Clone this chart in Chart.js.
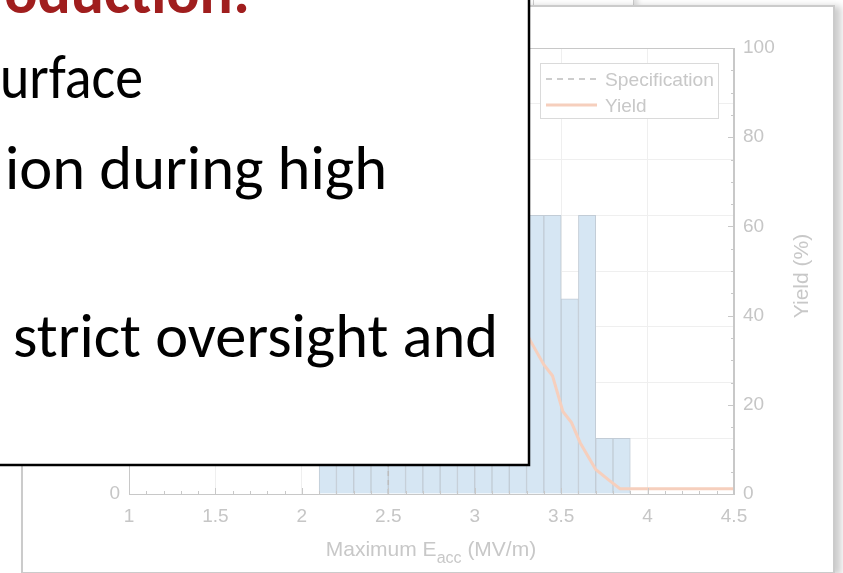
<!DOCTYPE html>
<html>
<head>
<meta charset="utf-8">
<script src="https://cdn.jsdelivr.net/npm/chart.js@4.4.1/dist/chart.umd.min.js"></script>
<style>
  html, body { margin: 0; padding: 0; background: #fff; }
  #wrap { position: relative; width: 843px; height: 573px; overflow: hidden; }
  #frame { position: absolute; left: 21px; top: 5px; width: 810px; height: 565px;
           border: 2px solid #cbcbcb; background: #fff; box-shadow: 6px 1px 7px rgba(0,0,0,0.2); }
  #tab { position: absolute; left: 533px; top: -12px; width: 99px; height: 16px;
         border: 1px solid #cdcdcd; background: #fff; box-shadow: 4px 1px 5px rgba(0,0,0,0.12); }
  canvas { position: absolute; left: 0; top: 0; }
  svg { position: absolute; left: 0; top: 0; }
</style>
</head>
<body>
<div id="wrap">
  <div id="tab"></div>
  <div id="frame"></div>
  <canvas id="myChart" width="843" height="573"></canvas>
  <svg width="843" height="573" font-family="Liberation Sans, Arial, sans-serif">
    <!-- legend -->
    <rect x="540.5" y="63.5" width="178" height="55" fill="#fff" stroke="#dadada" stroke-width="1"/>
    <line x1="546" y1="79" x2="597" y2="79" stroke="#bdbdbd" stroke-width="1.5" stroke-dasharray="6 5"/>
    <text x="605" y="86" font-size="19" fill="#c8c8c8" textLength="109" lengthAdjust="spacingAndGlyphs">Specification</text>
    <line x1="546" y1="105" x2="597" y2="105" stroke="#f6cfbd" stroke-width="3"/>
    <text x="605" y="112" font-size="19" fill="#c8c8c8">Yield</text>
    <!-- axis titles -->
    <text x="431" y="556" font-size="21" fill="#c8c8c8" text-anchor="middle">Maximum E<tspan font-size="16" dy="7">acc</tspan><tspan dy="-7"> (MV/m)</tspan></text>
    <text transform="translate(808,276) rotate(-90)" font-size="21" fill="#c8c8c8" text-anchor="middle">Yield (%)</text>
    <!-- slide text box on top of the chart -->
    <rect x="-10" y="-10" width="539" height="475" fill="#fff" stroke="#000" stroke-width="2.5"/>
    <g font-family="Carlito, Calibri, Lato, sans-serif" font-size="62">
      <text x="250" y="13" text-anchor="end" font-weight="bold" fill="#a01e1e">Introduction:</text>
      <text x="0" y="98" fill="#000" textLength="143" lengthAdjust="spacingAndGlyphs">urface</text>
      <text x="5" y="189" fill="#000" textLength="382" lengthAdjust="spacingAndGlyphs">ion during high</text>
      <text x="13" y="357" fill="#000" textLength="485" lengthAdjust="spacingAndGlyphs">strict oversight and</text>
    </g>
  </svg>
</div>
<script>
// histogram bins (centres, MV/m) and counts
const binCenters = [2.15, 2.25, 2.35, 2.45, 2.55, 2.65, 2.75, 2.85, 2.95, 3.05, 3.15, 3.25,
                    3.35, 3.45, 3.55, 3.65, 3.75, 3.85];
const binCounts = [2, 3, 4, 5, 6, 6, 7, 8, 8, 9, 10, 10,
                   10, 10, 7, 10, 2, 2];

// yield curve (%)
const yieldX = [1.0, 2.1, 2.5, 2.9, 3.1, 3.2, 3.32, 3.40, 3.45, 3.51, 3.56, 3.61, 3.70, 3.78, 3.84, 4.5];
const yieldY = [100, 100, 92, 70, 52, 44, 34.5, 29, 26.5, 18.5, 16, 11.5, 5.5, 3, 1.2, 1.2];

// specification line
const specX = [2.5, 2.5];
const specY = [0, 100];

const xTicks = [1, 1.5, 2, 2.5, 3, 3.5, 4, 4.5];

const tickFont = { family: 'Liberation Sans', size: 19 };
const tickColor = '#c6c6c6';
const axisColor = '#c8c8c8';

const boxTicks = {
    id: 'boxTicks',
    afterDraw(chart) {
        const ctx = chart.ctx;
        const a = chart.chartArea;
        const x = chart.scales.x, y = chart.scales.y, y1 = chart.scales.y1;
        ctx.save();
        ctx.strokeStyle = axisColor;
        ctx.lineWidth = 1;
        ctx.strokeRect(a.left + 0.5, a.top + 0.5, a.right - a.left - 1, a.bottom - a.top);
        ctx.beginPath();
        for (let v = 10; v <= 45; v++) {
            const px = Math.round(x.getPixelForValue(v / 10)) + 0.5;
            const len = v % 5 === 0 ? 6 : 3;
            ctx.moveTo(px, a.bottom);
            ctx.lineTo(px, a.bottom - len);
        }
        for (let v = 0; v <= 100; v += 5) {
            const py = Math.round(y1.getPixelForValue(v)) + 0.5;
            const len = v % 20 === 0 ? 6 : 3;
            ctx.moveTo(a.right, py);
            ctx.lineTo(a.right - len, py);
        }
        for (let v = 0; v <= 16; v += 2) {
            const py = Math.round(y.getPixelForValue(v)) + 0.5;
            ctx.moveTo(a.left, py);
            ctx.lineTo(a.left + 6, py);
        }
        ctx.stroke();
        ctx.restore();
    }
};

new Chart(document.getElementById('myChart'), {
    type: 'bar',
    data: {
        datasets: [
            {
                type: 'line',
                label: 'Yield',
                data: yieldX.map((v, i) => ({ x: v, y: yieldY[i] })),
                yAxisID: 'y1',
                borderColor: '#f6cfbd',
                borderWidth: 3,
                pointRadius: 0,
                tension: 0,
                order: 1
            },
            {
                type: 'line',
                label: 'Specification',
                data: specX.map((v, i) => ({ x: v, y: specY[i] })),
                yAxisID: 'y1',
                borderColor: '#bdbdbd',
                borderWidth: 1.5,
                borderDash: [5, 4],
                pointRadius: 0,
                order: 2
            },
            {
                label: 'Count',
                data: binCenters.map((v, i) => ({ x: v, y: binCounts[i] })),
                yAxisID: 'y',
                backgroundColor: '#d6e6f3',
                borderColor: '#c2ccd6',
                borderWidth: 1,
                barPercentage: 1,
                categoryPercentage: 1,
                order: 3
            }
        ]
    },
    options: {
        responsive: false,
        animation: false,
        devicePixelRatio: 1,
        layout: { padding: { top: 48, left: 0, right: 0, bottom: 0 } },
        plugins: { legend: { display: false }, tooltip: { enabled: false } },
        scales: {
            x: {
                type: 'linear',
                min: 1, max: 4.5,
                offset: false,
                afterFit: s => { s.height = 79; },
                afterBuildTicks: s => { s.ticks = xTicks.map(v => ({ value: v })); },
                grid: { color: '#efefef', drawTicks: false, offset: false },
                border: { color: axisColor },
                ticks: { font: tickFont, color: tickColor, padding: 11, maxRotation: 0, autoSkip: false,
                         callback: v => String(v) }
            },
            y: {
                position: 'left',
                min: 0, max: 16,
                afterFit: s => { s.width = 129; },
                grid: { color: '#efefef', drawTicks: false },
                border: { color: axisColor },
                ticks: { stepSize: 2, font: tickFont, color: tickColor, padding: 9 }
            },
            y1: {
                position: 'right',
                min: 0, max: 100,
                afterFit: s => { s.width = 109; },
                grid: { drawOnChartArea: false, drawTicks: false },
                border: { color: axisColor },
                ticks: { stepSize: 20, font: tickFont, color: tickColor, padding: 9 }
            }
        }
    },
    plugins: [boxTicks]
});
</script>
</body>
</html>
